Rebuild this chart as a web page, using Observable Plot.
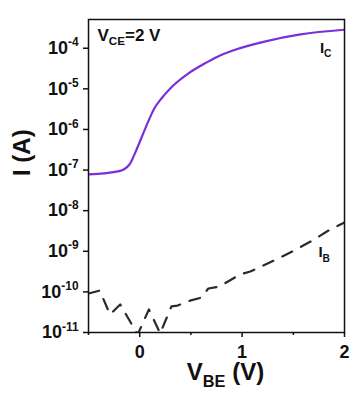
<!DOCTYPE html>
<html>
<head>
<meta charset="utf-8">
<script src="https://cdn.jsdelivr.net/npm/d3@7"></script>
<script src="https://cdn.jsdelivr.net/npm/@observablehq/plot@0.6"></script>
<style>
  html, body { margin: 0; padding: 0; background: #fff; }
  #chart { width: 358px; height: 396px; }
</style>
</head>
<body>
<div id="chart"></div>
<script>
// ---- data ----
const vbeC = [-0.5, -0.2, -0.1, -0.02, 0.06, 0.14, 0.21, 0.31, 0.47, 0.63, 0.76, 0.91, 1.24, 1.57, 2.0];
const icA  = [7.8e-8, 9.4e-8, 1.37e-7, 3.7e-7, 1.14e-6, 3.2e-6, 5.7e-6, 1.1e-5, 2.35e-5, 4.15e-5, 6.2e-5, 8.8e-5, 1.5e-4, 2.19e-4, 2.86e-4];

const vbeB = [-0.5, -0.39, -0.29, -0.19, -0.02, 0.09, 0.20, 0.31, 0.37, 0.50, 0.60, 0.67, 0.78, 0.98, 1.08, 1.27, 1.47, 1.67, 1.86, 2.0];
const ibA  = [9.1e-11, 1.08e-10, 2.78e-11, 4.9e-11, 8.9e-12, 3.7e-11, 9.5e-12, 4.4e-11, 4.6e-11, 6.2e-11, 7.2e-11, 1.21e-10, 1.36e-10, 2.69e-10, 3.18e-10, 5.3e-10, 9.3e-10, 1.74e-9, 3.44e-9, 5.1e-9];

const yTicks = [1e-11, 1e-10, 1e-9, 1e-8, 1e-7, 1e-6, 1e-5, 1e-4];
const xTicks = [0, 1, 2];
const xMinorTicks = [-0.5, 0.5, 1.5];

const condText = "V_{CE}=2 V";
const icText = "I_{C}";
const ibText = "I_{B}";
const xLabel = "V_{BE} (V)";
const yLabel = "I (A)";

// ---- tables ----
const icData = vbeC.map((x, i) => ({x, y: icA[i]}));
const ibData = vbeB.map((x, i) => ({x, y: ibA[i]}));

const font = "'Liberation Sans', Arial, Helvetica, sans-serif";

const plot = Plot.plot({
  width: 358,
  height: 396,
  marginLeft: 88,
  marginRight: 14,
  marginTop: 19,
  marginBottom: 64,
  style: {fontFamily: font, fontWeight: "bold", background: "#fff", color: "#111", overflow: "visible"},
  x: {domain: [-0.5, 2]},
  y: {type: "log", domain: [1e-11, 5.1e-4]},
  marks: [
    Plot.line(icData, {x: "x", y: "y", stroke: "#7b2fd9", strokeWidth: 2.2, curve: "monotone-x", clip: true}),
    Plot.line(ibData, {x: "x", y: "y", stroke: "#2a2a2a", strokeWidth: 2.2, strokeDasharray: "11,10", clip: true}),
    Plot.frame({stroke: "#111", strokeWidth: 1.5}),
    Plot.axisY({ticks: yTicks, tickSize: 5, tickPadding: 5, fontSize: 18, strokeWidth: 1.5, label: null,
      tickFormat: d => `10^{${Math.round(Math.log10(d))}}`}),
    Plot.axisX({ticks: xTicks, tickSize: 5, tickPadding: 8, fontSize: 18, strokeWidth: 1.5, label: null,
      tickFormat: d => String(d)}),
    Plot.axisX({ticks: xMinorTicks, tickSize: 3, strokeWidth: 1.5, label: null, tickFormat: () => ""}),
    Plot.text([condText], {frameAnchor: "top-left", textAnchor: "start", lineAnchor: "top", dx: 9, dy: 9, fontSize: 17, fill: "#111"}),
    Plot.text([icText], {x: [1.76], y: [1.0e-4], textAnchor: "start", fontSize: 15, fill: "#111"}),
    Plot.text([ibText], {x: [1.745], y: [9.3e-10], textAnchor: "start", fontSize: 15, fill: "#111"}),
    Plot.text([xLabel], {frameAnchor: "bottom", lineAnchor: "middle", dx: 9, dy: 40, fontSize: 24, fill: "#111"}),
    Plot.text([yLabel], {frameAnchor: "left", lineAnchor: "middle", rotate: -90, dx: -66, fontSize: 24, fill: "#111"})
  ]
});

document.getElementById("chart").appendChild(plot);

// rich text: _{sub} and ^{sup}
const ns = "http://www.w3.org/2000/svg";
plot.querySelectorAll("text").forEach(t => {
  const s = t.textContent;
  if (!/[_^]\{/.test(s)) return;
  const fs = parseFloat(getComputedStyle(t).fontSize) || 16;
  const parts = s.split(/([_^]\{[^}]*\})/).filter(p => p !== "");
  t.textContent = "";
  let shift = 0;
  parts.forEach(p => {
    const ts = document.createElementNS(ns, "tspan");
    const m = p.match(/^([_^])\{(.*)\}$/);
    let target = 0, text = p;
    if (m) {
      text = m[2];
      target = m[1] === "_" ? fs * 0.28 : -fs * 0.42;
      ts.setAttribute("font-size", (fs * (m[1] === "_" ? 0.68 : 0.66)).toFixed(1));
    }
    if (target !== shift) { ts.setAttribute("dy", (target - shift).toFixed(1)); shift = target; }
    ts.textContent = text;
    t.appendChild(ts);
  });
});
</script>
</body>
</html>
